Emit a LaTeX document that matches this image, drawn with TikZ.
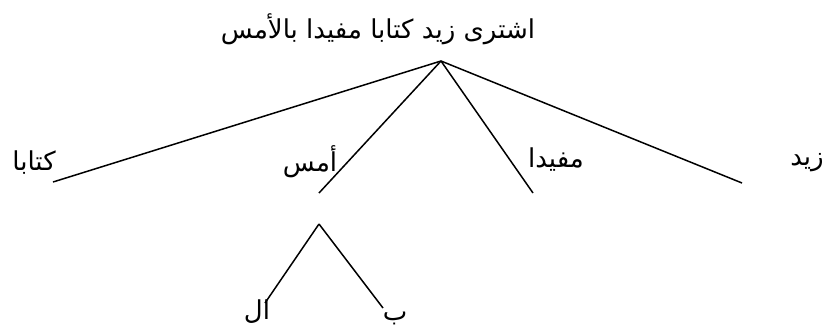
\documentclass[tikz,border=0pt]{standalone}
\usepackage{fontspec}
\newfontfamily\arabicfont[Script=Arabic]{DejaVu Sans}
\TeXXeTstate=1
\begin{document}
\begin{tikzpicture}[x=1pt,y=-1pt,
  lbl/.style={inner sep=0pt, font=\arabicfont\fontsize{26}{30}\selectfont},
  edge/.style={line width=1.5pt}]
\useasboundingbox (0,0) rectangle (827,327);
\node[lbl] (sent) at (378,29) {\beginR اشترى زيد كتابا مفيدا بالأمس\endR};
\node[lbl] (kitab) at (34,163) {\beginR كتابا\endR};
\node[lbl] (ams) at (310,162) {\beginR أمس\endR};
\node[lbl] (mufid) at (556,160) {\beginR مفيدا\endR};
\node[lbl] (zayd) at (807,163) {\beginR زيد\endR};
\node[lbl] (al) at (257,312) {\beginR ال\endR};
\node[lbl] (bi) at (395,318) {\beginR ب\endR};
\coordinate (top) at (441,61);
\coordinate (e1) at (53,182);
\coordinate (e2) at (319,193);
\coordinate (e3) at (533,193);
\coordinate (e4) at (742,183);
\coordinate (sub) at (319,224);
\coordinate (s1) at (265,303);
\coordinate (s2) at (383,308);
\draw[edge] (top) -- (e1);
\draw[edge] (top) -- (e2);
\draw[edge] (top) -- (e3);
\draw[edge] (top) -- (e4);
\draw[edge] (sub) -- (s1);
\draw[edge] (sub) -- (s2);
\end{tikzpicture}
\end{document}
